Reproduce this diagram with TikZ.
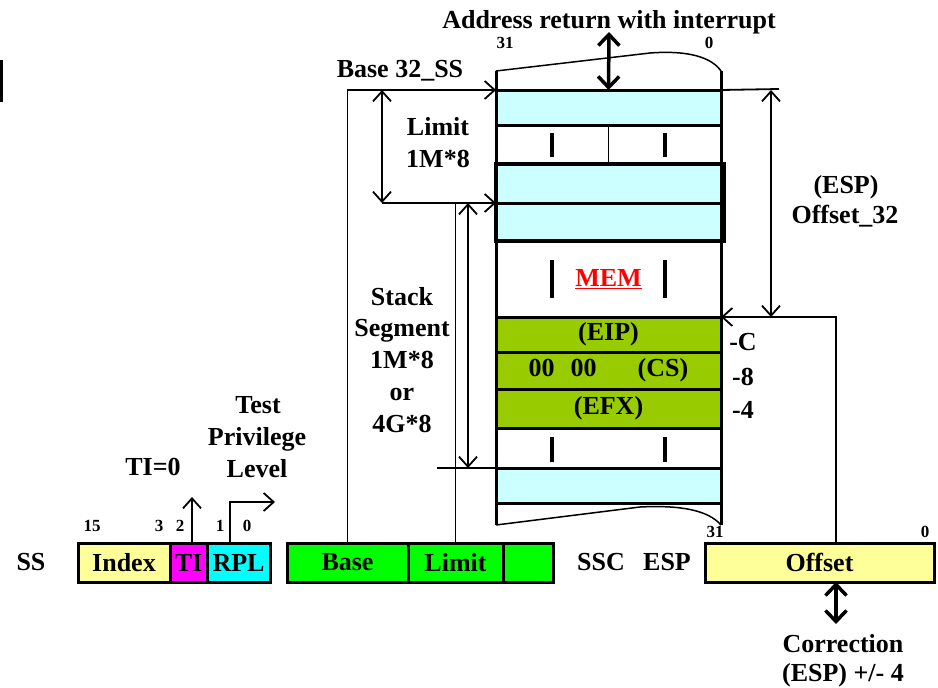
\documentclass[tikz,border=0pt]{standalone}
\usepackage{fontspec}
\setmainfont{Liberation Serif}
\usetikzlibrary{arrows.meta}
\definecolor{memcyan}{HTML}{CCFFFF}
\definecolor{memgreen}{HTML}{99CC00}
\definecolor{fyellow}{HTML}{FFFF99}
\definecolor{fmagenta}{HTML}{FF00FF}
\definecolor{fcyan}{HTML}{00FFFF}
\definecolor{fgreen}{HTML}{00FF00}
\definecolor{memred}{HTML}{FF0000}
\begin{document}
\begin{tikzpicture}[x=1pt,y=-1pt,
  lbl/.style={font=\bfseries\fontsize{26}{31}\selectfont, inner sep=0, outer sep=0, anchor=base},
  bitno/.style={font=\bfseries\fontsize{17}{19}\selectfont, inner sep=0, outer sep=0, anchor=base},
  row/.style={draw, line width=3pt, minimum width=225pt, inner sep=0, outer sep=0, font=\bfseries\fontsize{26}{31}\selectfont},
  field/.style={draw, line width=3pt, minimum height=39pt, inner sep=0, outer sep=0, font=\bfseries\fontsize{26}{31}\selectfont},
  tickmark/.style={line width=3.5pt},
  conn/.style={line width=1.8pt, -{Straight Barb[length=10pt,width=18pt]}},
  dconn/.style={line width=1.8pt, {Straight Barb[length=10pt,width=18pt]}-{Straight Barb[length=10pt,width=18pt]}},
  plain/.style={line width=1.8pt},
  bigdbl/.style={line width=3.5pt, {Straight Barb[length=11pt,width=21pt]}-{Straight Barb[length=11pt,width=21pt]}}
]
\useasboundingbox (0,0) rectangle (938,688);
\fill (0,60) rectangle (3,102);

% ---------- memory column ----------
\node[row, fill=memcyan, minimum height=35pt] (r1) at (608.5,107.5) {};
\node[row, fill=white, minimum height=39pt] (r2) at (608.5,144.5) {};
\node[row, fill=memcyan, minimum height=39pt] (r3) at (608.5,183.5) {};
\node[row, fill=memcyan, minimum height=38pt] (r4) at (608.5,222) {};
\node[row, fill=white, minimum height=76pt] (r5) at (608.5,279) {\textcolor{memred}{\underline{MEM}}};
\node[row, fill=memgreen, minimum height=35pt] (r6) at (608.5,334.5) {\raisebox{-2pt}{(EIP)}};
\node[row, fill=memgreen, minimum height=37pt] (r7) at (608.5,370.5) {\raisebox{-2pt}{00\hspace{16pt}00\hspace{41pt}(CS)}};
\node[row, fill=memgreen, minimum height=39pt] (r8) at (608.5,408.5) {\raisebox{-2pt}{(EFX)}};
\node[row, fill=white, minimum height=40pt] (r9) at (608.5,448) {};
\node[row, fill=memcyan, minimum height=35pt] (r10) at (608.5,485.5) {};
% thick frame of the cyan block
\draw[line width=4pt] (r3.north west) rectangle ([xshift=3pt]r4.south east);
% column sides and torn ends
\draw[line width=3pt] (496,71) -- (496,525);
\draw[line width=3pt] (721,71) -- (721,525);
\draw[line width=1.5pt] (496,71) -- (650,53) .. controls (690,50) and (712,58) .. (721,71);
\draw[line width=1.5pt] (496,525) -- (640,507) .. controls (680,505) and (708,510) .. (721,525);
% inner marks
\draw[line width=1.5pt] (r2.north) -- (r2.south);
\foreach \x in {552,665}{
  \draw[tickmark] (\x,133) -- (\x,157);
  \draw[tickmark] (\x,260) -- (\x,298);
  \draw[tickmark] (\x,437) -- (\x,462);
}
\node[bitno] (b31) at (505,48) {31};
\node[bitno] (b0) at (709,48) {0};

% ---------- labels ----------
\node[lbl] (addr) at (609,28) {Address return with interrupt};
\node[lbl] (base32) at (400,77) {Base 32\_SS};
\node[lbl] (lim1) at (438,135) {Limit};
\node[lbl] (lim2) at (438,167) {1M*8};
\node[lbl] (st1) at (402,305) {Stack};
\node[lbl] (st2) at (402,336) {Segment};
\node[lbl] (st3) at (402,368) {1M*8};
\node[lbl] (st4) at (402,400) {or};
\node[lbl] (st5) at (402,432) {4G*8};
\node[lbl] (esp1) at (846,193) {(ESP)};
\node[lbl] (esp2) at (845,223) {Offset\_32};
\node[lbl] (mc) at (743,350) {-C};
\node[lbl] (m8) at (743,385) {-8};
\node[lbl] (m4) at (743,418) {-4};

% ---------- bottom registers ----------
\node[lbl] (ss) at (31,570) {SS};
\node[field, fill=fyellow, minimum width=92pt] (index) at (124,562.5) {Index};
\node[field, fill=fmagenta, minimum width=37pt] (ti) at (188.5,562.5) {TI};
\node[field, fill=fcyan, minimum width=63pt] (rpl) at (238.5,562.5) {RPL};
\node[bitno] (n15) at (92,531) {15};
\node[bitno] (n3) at (159,531) {3};
\node[bitno] (n2) at (180,531) {2};
\node[bitno] (n1) at (220,531) {1};
\node[bitno] (n0) at (247,531) {0};
\node[lbl] (ti0) at (153,475) {TI=0};
\node[lbl] (tp1) at (258,413) {Test};
\node[lbl] (tp2) at (257,445) {Privilege};
\node[lbl] (tp3) at (257,477) {Level};

\node[field, fill=fgreen, minimum width=121pt] (base) at (347.5,562.5) {Base};
\node[field, fill=fgreen, minimum width=95pt] (limit) at (455.5,562.5) {Limit};
\node[field, fill=fgreen, minimum width=50pt] (spare) at (528,562.5) {};
\node[lbl] (ssc) at (601,570) {SSC};
\node[lbl] (espl) at (667,570) {ESP};
\node[field, fill=fyellow, minimum width=229pt] (offset) at (819.5,562.5) {Offset};
\node[bitno] (o31) at (715,537) {31};
\node[bitno] (o0) at (925,537) {0};
\node[lbl] (cor1) at (843,652) {Correction};
\node[lbl] (cor2) at (843,681) {(ESP) +/- 4};

% ---------- coordinates ----------
\coordinate (xlim) at (382,0);
\coordinate (xstk) at (468,0);
\coordinate (xr) at (771,0);
\coordinate (seglow) at (437,468);
\coordinate (rtop) at (779,89);
\coordinate (addrtop) at (609,32);
\coordinate (corbot) at (836,624);
\coordinate (offup) at (836,543);
\coordinate (rplup) at (230,543);
\coordinate (rplend) at (275,502);
\coordinate (tiup) at (192,497);
\coordinate (tibot) at (192,543);

% ---------- connectors ----------
\draw[conn] (base.north) |- (r1.north west);
\draw[dconn] (xlim |- r1.north west) -- (xlim |- r4.north west);
\draw[conn] (xlim |- r4.north west) -- (r4.north west);
\draw[plain] (limit.north) -- (limit.north |- r4.north west);
\draw[dconn] (xstk |- r4.north west) -- (xstk |- r10.north west);
\draw[plain] (seglow) -- (r10.north west);
\draw[plain] (r1.north east) -- (rtop);
\draw[dconn] (xr |- r1.north east) -- (xr |- r6.north east);
\draw[conn] (offup) |- (r6.north east);
\draw[bigdbl] (r1.north) -- (addrtop);
\draw[bigdbl] (offup |- offset.south) -- (corbot);
\draw[conn] (tibot) -- (tiup);
\draw[conn] (rplup) |- (rplend);
\end{tikzpicture}
\end{document}
